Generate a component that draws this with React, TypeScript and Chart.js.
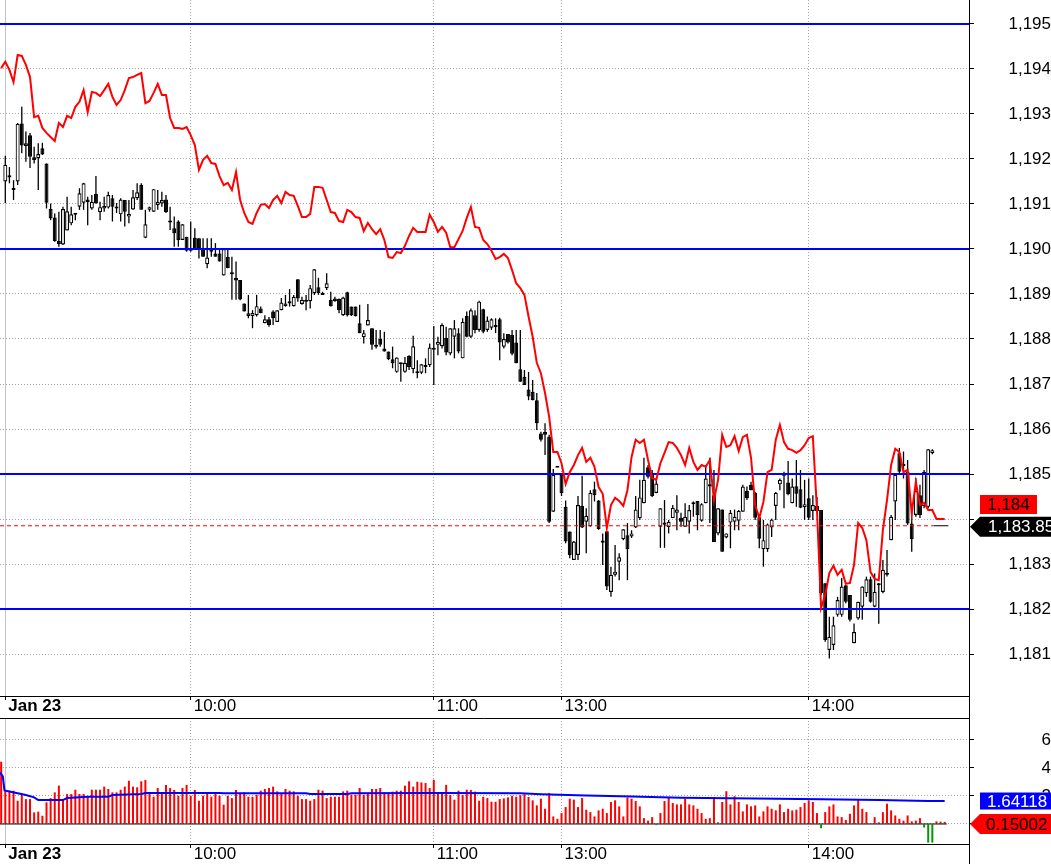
import React, { useEffect, useRef } from "react";
import { Chart, registerables } from "chart.js";

Chart.register(...registerables);

const FONT = '"Liberation Sans", Arial, Helvetica, sans-serif';

// ---------------- data ----------------
const timeTickBars = [0, 45, 104, 135, 195];
const timeTickLabels = ["Jan 23", "10:00", "11:00", "13:00", "14:00"];
const priceTicks = [1181, 1182, 1183, 1184, 1185, 1186, 1187, 1188, 1189, 1190, 1191, 1192, 1193, 1194, 1195];
const horizontalLevels = [1195, 1190, 1185, 1182];

const opens = [
  1191.50,1191.59,1191.31,1191.50,1192.79,1192.29,1192.53,1192.04,1192.02,1192.24,
  1191.90,1190.89,1190.70,1190.18,1190.10,1190.41,1190.57,1190.76,1190.94,1191.03,
  1191.10,1190.90,1191.22,1190.82,1190.90,1190.92,1191.13,1190.90,1190.77,1191.09,
  1190.72,1190.88,1191.13,1191.42,1190.25,1190.87,1190.83,1190.98,1191.01,1191.10,
  1190.59,1190.46,1190.61,1190.20,1190.27,1189.96,1190.25,1190.24,1190.00,1189.66,
  1189.98,1189.90,1189.90,1189.41,1189.82,1189.44,1189.36,1189.31,1188.79,1188.51,
  1188.51,1188.53,1188.68,1188.35,1188.44,1188.61,1188.38,1188.64,1188.73,1188.79,
  1188.73,1189.33,1188.78,1188.83,1188.84,1189.02,1189.15,1189.02,1189.13,1188.87,
  1188.90,1188.89,1188.53,1189.04,1188.72,1188.72,1188.35,1188.04,1188.30,1188.24,
  1187.87,1188.00,1187.79,1187.72,1187.55,1187.27,1187.44,1187.27,1187.62,1187.33,
  1187.27,1187.25,1187.38,1187.42,1187.79,1187.87,1187.84,1188.02,1187.68,1188.05,
  1188.13,1187.57,1188.51,1188.05,1188.53,1188.20,1188.66,1188.20,1188.25,1188.26,
  1188.44,1187.83,1188.11,1188.09,1187.92,1187.33,1187.16,1186.88,1186.83,1186.64,
  1185.90,1185.94,1185.83,1184.16,1185.14,1184.98,1184.27,1183.72,1183.09,1183.20,
  1184.29,1183.94,1183.84,1184.66,1184.41,1183.47,1183.73,1182.38,1182.76,1183.05,
  1183.55,1183.64,1183.61,1183.81,1184.02,1184.35,1185.15,1185.00,1184.58,1183.83,
  1183.92,1183.82,1184.02,1184.14,1184.03,1183.83,1183.94,1184.33,1184.40,1183.96,
  1184.35,1184.77,1184.53,1183.68,1184.21,1183.59,1183.92,1183.94,1183.96,1184.16,
  1184.62,1184.76,1184.58,1184.04,1183.33,1183.33,1183.81,1184.29,1184.77,1185.00,
  1184.81,1184.35,1184.73,1184.66,1184.26,1184.46,1184.18,1184.29,1184.20,1182.57,
  1181.09,1181.20,1181.87,1181.87,1182.53,1182.31,1181.24,1181.79,1182.05,1182.35,
  1182.66,1182.05,1182.53,1182.38,1182.76,1183.53,1184.39,1185.46,1185.18,1185.05,
  1183.90,1184.09,1184.53,1184.29,1184.27,1185.46,
];
const highs = [
  1192.07,1191.82,1191.53,1192.80,1193.16,1192.61,1192.58,1192.27,1192.35,1192.36,
  1191.90,1191.01,1190.79,1190.83,1190.94,1191.16,1190.94,1190.80,1191.35,1191.47,
  1191.16,1191.20,1191.62,1191.05,1191.16,1191.27,1191.20,1191.02,1191.13,1191.09,
  1191.09,1191.31,1191.46,1191.46,1190.87,1190.94,1191.33,1191.31,1191.27,1191.20,
  1190.94,1190.72,1190.64,1190.55,1190.27,1190.61,1190.46,1190.24,1190.24,1190.24,
  1190.24,1190.13,1190.02,1190.00,1190.02,1189.83,1189.72,1189.31,1188.79,1188.98,
  1188.64,1188.98,1188.72,1188.53,1188.49,1188.64,1188.64,1188.91,1188.98,1189.11,
  1188.98,1189.33,1188.94,1188.98,1189.20,1189.55,1189.36,1189.05,1189.46,1189.05,
  1188.94,1188.90,1188.94,1189.05,1188.72,1188.72,1188.76,1188.20,1188.78,1188.24,
  1188.20,1188.20,1188.16,1187.72,1187.83,1187.59,1187.47,1187.60,1187.64,1188.07,
  1187.53,1187.44,1187.57,1187.90,1188.29,1188.05,1188.35,1188.27,1188.24,1188.42,
  1188.24,1188.46,1188.61,1188.68,1188.64,1188.85,1188.67,1188.50,1188.46,1188.46,
  1188.47,1188.13,1188.11,1188.20,1188.20,1188.20,1187.31,1187.27,1187.09,1186.80,
  1185.94,1186.13,1185.87,1185.11,1185.14,1184.98,1184.41,1183.72,1183.51,1184.51,
  1184.96,1184.24,1184.64,1184.83,1184.42,1183.68,1183.73,1182.94,1183.42,1183.24,
  1183.77,1183.91,1183.75,1184.51,1184.87,1185.36,1185.20,1185.09,1184.90,1184.24,
  1184.42,1183.98,1184.31,1184.53,1184.14,1184.35,1184.31,1184.39,1184.40,1184.35,
  1185.20,1185.36,1185.09,1184.24,1184.21,1183.68,1184.20,1184.21,1184.20,1184.76,
  1184.72,1184.83,1184.60,1184.05,1183.98,1183.90,1184.01,1184.60,1184.90,1185.05,
  1185.29,1184.90,1185.31,1185.09,1184.87,1184.90,1184.53,1184.49,1184.20,1182.57,
  1181.83,1181.83,1182.27,1182.69,1182.53,1182.31,1181.68,1182.16,1182.50,1182.72,
  1182.72,1182.79,1182.58,1183.09,1183.31,1184.09,1184.98,1185.58,1185.50,1185.31,
  1184.31,1184.91,1184.76,1185.09,1185.55,1185.55,
];
const lows = [
  1191.02,1191.46,1191.09,1191.42,1192.13,1191.94,1191.80,1191.90,1191.31,1192.09,
  1190.90,1190.64,1190.16,1190.05,1190.09,1190.41,1190.53,1190.64,1190.87,1190.87,
  1190.53,1190.87,1191.01,1190.64,1190.83,1190.90,1190.61,1190.80,1190.61,1190.50,
  1190.57,1190.87,1191.09,1190.87,1190.24,1190.83,1190.83,1190.87,1190.94,1190.80,
  1190.42,1190.05,1190.05,1190.20,1189.94,1189.94,1189.98,1189.79,1189.83,1189.57,
  1189.83,1189.83,1189.72,1189.41,1189.57,1188.87,1188.87,1188.86,1188.61,1188.46,
  1188.24,1188.50,1188.57,1188.35,1188.27,1188.31,1188.38,1188.64,1188.72,1188.72,
  1188.72,1188.83,1188.76,1188.64,1188.68,1188.98,1188.98,1188.98,1189.09,1188.72,
  1188.83,1188.57,1188.51,1188.50,1188.51,1188.50,1188.13,1187.90,1188.30,1187.76,
  1187.79,1187.83,1187.72,1187.53,1187.35,1187.25,1187.05,1187.25,1187.31,1187.24,
  1187.13,1187.22,1187.24,1187.38,1186.98,1187.64,1187.79,1187.64,1187.64,1187.57,
  1187.68,1187.57,1188.04,1188.02,1188.13,1188.16,1188.13,1188.16,1188.20,1188.13,
  1187.53,1187.79,1187.90,1187.64,1187.46,1187.05,1186.98,1186.64,1186.64,1185.98,
  1185.72,1185.42,1183.91,1184.16,1185.14,1184.51,1183.46,1183.13,1183.09,1183.09,
  1183.80,1183.24,1183.83,1184.39,1183.76,1182.98,1182.42,1182.27,1182.72,1182.64,
  1183.53,1182.64,1183.58,1183.80,1183.98,1184.35,1184.90,1184.49,1184.57,1183.36,
  1183.36,1183.68,1184.02,1183.75,1183.83,1183.83,1183.68,1184.05,1183.75,1183.94,
  1184.35,1183.91,1183.49,1183.64,1183.27,1183.57,1183.35,1183.75,1183.75,1184.16,
  1184.42,1184.64,1183.98,1183.35,1182.94,1183.27,1183.60,1183.98,1184.64,1184.24,
  1184.53,1184.35,1184.27,1184.24,1183.98,1183.98,1183.98,1184.16,1182.31,1181.27,
  1180.90,1181.09,1181.83,1181.83,1182.13,1181.72,1181.24,1181.76,1181.76,1182.27,
  1182.14,1182.04,1181.67,1182.35,1182.72,1183.53,1183.98,1185.02,1184.90,1183.87,
  1183.27,1184.05,1184.02,1184.24,1184.24,1185.44,
];
const closes = [
  1191.87,1191.64,1191.31,1192.78,1192.30,1192.35,1192.05,1191.98,1192.11,1192.10,
  1191.03,1190.68,1190.18,1190.11,1190.89,1190.84,1190.77,1190.76,1191.24,1191.46,
  1191.04,1191.05,1191.01,1190.93,1190.96,1191.20,1190.94,1190.90,1191.10,1190.83,
  1190.78,1191.15,1191.26,1190.87,1190.55,1190.93,1191.33,1191.05,1191.09,1190.82,
  1190.59,1190.35,1190.20,1190.55,1189.96,1189.97,1190.01,1190.02,1189.83,1189.81,
  1189.94,1189.83,1189.72,1190.00,1189.58,1189.44,1189.30,1188.88,1188.61,1188.57,
  1188.58,1188.73,1188.58,1188.44,1188.31,1188.46,1188.64,1188.81,1188.79,1188.84,
  1188.94,1188.90,1188.87,1188.85,1189.13,1189.55,1189.02,1188.98,1189.24,1188.73,
  1188.84,1188.64,1188.92,1188.53,1188.53,1188.51,1188.13,1188.13,1188.42,1187.87,
  1187.83,1187.87,1187.72,1187.55,1187.46,1187.59,1187.47,1187.47,1187.38,1187.84,
  1187.24,1187.44,1187.42,1187.81,1187.76,1187.94,1188.31,1187.70,1188.24,1188.24,
  1187.72,1188.38,1188.05,1188.64,1188.20,1188.83,1188.16,1188.41,1188.44,1188.31,
  1187.92,1188.00,1187.92,1187.67,1187.46,1187.05,1186.98,1186.72,1186.64,1186.13,
  1185.76,1185.87,1183.94,1184.98,1185.14,1184.58,1183.50,1183.20,1183.50,1184.31,
  1183.81,1184.07,1184.58,1184.53,1183.78,1183.52,1182.50,1182.76,1182.83,1183.15,
  1183.77,1183.33,1183.68,1184.21,1184.48,1184.87,1184.94,1184.51,1184.79,1184.24,
  1183.87,1183.94,1184.25,1184.21,1183.94,1184.05,1184.20,1184.37,1184.09,1184.33,
  1184.90,1184.72,1183.49,1184.24,1183.27,1183.68,1184.14,1184.05,1184.18,1184.72,
  1184.46,1184.64,1184.03,1183.56,1183.53,1183.88,1183.99,1184.58,1184.87,1184.96,
  1184.55,1184.72,1184.56,1184.25,1184.33,1184.03,1184.31,1184.18,1182.35,1181.31,
  1181.38,1181.64,1182.20,1182.50,1182.16,1181.76,1181.49,1182.16,1182.50,1182.66,
  1182.16,1182.38,1182.53,1182.87,1182.76,1184.05,1184.98,1185.05,1185.18,1183.90,
  1183.55,1184.62,1184.09,1185.05,1185.55,1185.53,
];

// comparison line: first entry belongs to the bar just before the first candle (index -1)
const redLine = [
  1194.02,1194.16,1193.98,1193.71,1194.31,1194.29,1194.09,1193.82,1192.93,1192.96,
  1192.69,1192.58,1192.49,1192.40,1192.80,1192.71,1192.96,1192.91,1193.16,1193.27,
  1193.53,1193.04,1193.49,1193.47,1193.40,1193.53,1193.67,1193.38,1193.20,1193.31,
  1193.53,1193.80,1193.82,1193.87,1193.91,
  1193.24,1193.29,1193.47,1193.67,1193.42,1193.42,1192.91,1192.69,1192.69,1192.67,
  1192.71,1192.53,1192.31,1191.76,1191.98,1192.07,1191.91,1191.89,1191.62,1191.42,
  1191.47,1191.31,1191.71,1191.09,1190.80,1190.60,1190.56,1190.80,1190.98,1191.00,
  1190.91,1191.09,1191.18,1191.02,1191.27,1191.20,1191.18,1190.96,1190.71,1190.71,
  1190.78,1191.38,1191.38,1191.36,1191.09,1190.82,1190.80,1190.62,1190.60,1190.87,
  1190.82,1190.71,1190.69,1190.40,1190.58,1190.44,1190.33,1190.44,1190.20,1189.82,
  1189.80,1189.93,1189.91,1190.07,1190.29,1190.47,
  1190.38,1190.38,1190.38,1190.76,1190.60,1190.38,1190.49,1190.36,1190.04,1190.04,
  1190.22,1190.40,1190.69,1190.93,1190.49,1190.47,1190.20,1190.11,1189.96,1189.78,
  1189.82,1189.89,1189.80,1189.53,1189.24,1189.13,1188.98,1188.50,1188.05,1187.47,
  1187.24,1186.80,1186.27,1185.49,1185.49,1185.24,1184.78,1185.04,1185.20,1185.42,
  1185.58,1185.27,1185.36,1185.16,1184.71,1184.56,1183.80,1184.31,1184.47,1184.40,
  1184.29,1184.64,1185.38,1185.76,1185.69,1185.76,1185.31,1184.91,1184.87,1185.24,
  1185.47,1185.71,1185.69,1185.58,1185.42,1185.20,
  1185.58,1185.27,1185.09,1185.20,1185.16,1185.31,1184.42,1184.87,1185.87,1185.60,
  1185.64,1185.84,1185.51,1185.82,1185.87,1185.36,1184.31,1184.02,1184.38,1185.04,
  1185.09,1185.76,1186.09,1185.71,1185.56,1185.53,1185.47,1185.53,1185.64,1185.80,
  1185.84,1184.20,1182.02,1182.31,1182.80,1182.96,1182.76,1182.87,1182.56,1182.58,
  1182.98,1183.91,1183.80,1183.53,1182.82,1182.67,1182.64,1183.76,1184.42,1185.20,
  1185.56,1185.49,1185.04,1185.09,1184.13,1184.82,1184.31,1184.36,1184.20,1184.20,
  1184.00,1184.00,1184.00,
];
const lastPrice = 1183.85;

// lower panel histogram: first entry belongs to bar index -1
const volume = [
  4.45,
  2.38,2.38,2.38,1.66,2.14,1.78,1.78,0.83,0.88,0.59,
  1.55,1.85,2.26,2.74,1.78,2.14,2.14,2.45,2.14,2.14,
  1.95,2.45,2.45,2.45,2.67,2.50,2.26,2.26,2.45,2.67,
  3.09,2.67,2.62,3.05,3.14,2.26,1.95,2.57,2.21,2.79,
  2.57,2.43,2.02,2.57,2.79,2.02,2.43,1.66,2.02,2.26,
  1.95,2.14,2.02,1.38,2.02,1.85,2.43,2.21,2.26,1.95,
  1.95,2.09,2.38,2.50,2.57,2.67,2.33,2.14,2.50,2.38,
  2.33,2.02,1.78,1.78,1.66,1.78,2.45,2.38,1.85,1.95,
  1.95,1.95,2.33,2.38,2.09,2.09,2.57,2.09,2.14,2.50,
  2.50,2.57,2.26,2.26,2.31,2.38,2.38,2.74,3.05,2.67,
  3.02,2.97,2.93,2.57,3.16,2.26,2.26,2.79,2.07,1.74,
  2.38,2.07,2.45,2.43,2.31,1.66,1.95,1.85,1.59,1.59,
  1.78,1.83,1.90,2.02,1.95,
  2.06,2.13,1.93,1.69,1.33,
  1.81,1.09,2.22,0.54,0.37,0.78,1.21,1.81,1.74,1.21,
  1.86,1.02,0.85,0.54,0.97,1.09,0.78,1.57,1.69,1.26,
  0.54,1.89,1.81,1.64,1.26,0.42,0.24,0.49,-0.08,0.78,
  1.64,1.89,1.50,1.40,1.40,1.81,1.40,1.33,1.09,0.78,
  0.37,0.42,1.93,0.12,1.57,2.34,1.40,1.98,1.57,0.90,
  1.40,1.26,1.33,0.54,0.90,1.26,1.09,0.97,1.40,0.85,
  1.09,0.97,1.02,1.21,1.50,1.69,1.57,0.78,-0.30,0.85,
  1.26,1.40,0.54,0.49,0.29,0.73,1.33,1.77,1.09,0.85,
  0.03,0.49,0.12,0.85,1.45,0.97,0.61,0.37,0.24,0.61,
  0.19,0.24,0.42,-0.25,-1.33,-1.33,0.19,0.17,0.15002,
];
const volumeAvgBars = [-1.3, -0.6, -0.2, 3, 5, 7, 8, 14, 15, 20, 25, 26, 33, 34, 52, 53, 73, 74, 83, 84, 104, 125, 130, 141, 152, 164, 182, 198, 212, 224, 228];
const volumeAvgValues = [3.69, 3.40, 2.40, 2.20, 2.07, 1.90, 1.71, 1.71, 1.85, 1.95, 1.95, 2.07, 2.14, 2.21, 2.21, 2.19, 2.19, 2.14, 2.14, 2.19, 2.21, 2.19, 2.12, 2.03, 1.96, 1.88, 1.83, 1.76, 1.71, 1.645, 1.64118];
const volumeTicks = [0, 2, 4, 6];

// ---------------- layout ----------------
const W = 1051;
const MAIN_H = 718;
const VOL_H = 146;
const AXIS_W = 82;
const X_MIN = -1.286;
const X_MAX = 233.9;
const PRICE_MIN = 1180.067;
const PRICE_MAX = 1195.533;
const VOL_MIN = -1.4286;
const VOL_MAX = 7.571;
const LAST_BAR = opens.length - 1;
const GRID_GREY = "#a4a4a4";

const priceFmt = new Intl.NumberFormat("en-US", { maximumFractionDigits: 2 });

function timeAxis(height: number): any {
  return {
    type: "linear",
    min: X_MIN,
    max: X_MAX,
    offset: false,
    afterBuildTicks: (s: any) => {
      s.ticks = timeTickBars.map((v) => ({ value: v }));
    },
    afterFit: (s: any) => {
      s.height = height;
      s.paddingLeft = 0;
      s.paddingRight = 0;
    },
    ticks: {
      autoSkip: false,
      maxRotation: 0,
      minRotation: 0,
      align: "start",
      labelOffset: 3,
      padding: -2,
      color: "#000",
      font: (c: any) => ({ family: FONT, size: 17, weight: c.index === 0 ? "bold" : "normal", lineHeight: 1 }),
      callback: (_v: any, i: number) => timeTickLabels[i] ?? "",
    },
    grid: {
      offset: false,
      color: (c: any) => (c.index === 0 ? "rgba(0,0,0,0)" : GRID_GREY),
      lineWidth: 1,
      tickLength: 4,
      tickColor: "#000",
      tickWidth: 1,
      tickBorderDash: [],
    },
    border: { display: true, color: "#000", width: 1, dash: [1, 2] },
  };
}

// solid light-grey session-start line at the first time tick, full height of the plot
const sessionLinePlugin: any = {
  id: "sessionLine",
  beforeDatasetsDraw(chart: any) {
    const { ctx, chartArea: a } = chart;
    const x = Math.round(chart.scales.x.getPixelForValue(timeTickBars[0])) + 0.5;
    ctx.save();
    ctx.strokeStyle = "#c4c4c4";
    ctx.lineWidth = 1;
    ctx.beginPath();
    ctx.moveTo(x, a.top);
    ctx.lineTo(x, a.bottom);
    ctx.stroke();
    ctx.restore();
  },
};

function framePlugin(drawTop: boolean): any {
  return {
    id: "frame" + (drawTop ? "T" : "B"),
    afterDraw(chart: any) {
      const { ctx, chartArea: a, height } = chart;
      ctx.save();
      ctx.strokeStyle = "#000";
      ctx.lineWidth = 1;
      const xr = Math.round(a.right) + 0.5;
      ctx.beginPath();
      ctx.moveTo(xr, 0);
      ctx.lineTo(xr, height);
      if (drawTop) {
        const yt = Math.round(a.top) + 0.5;
        ctx.moveTo(0, yt);
        ctx.lineTo(xr, yt);
      }
      ctx.stroke();
      ctx.restore();
    },
  };
}

function arrowBox(ctx: any, tipX: number, boxX: number, cy: number, h: number, color: string) {
  ctx.beginPath();
  ctx.moveTo(tipX, cy);
  ctx.lineTo(boxX, cy - h / 2);
  ctx.lineTo(W, cy - h / 2);
  ctx.lineTo(W, cy + h / 2);
  ctx.lineTo(boxX, cy + h / 2);
  ctx.closePath();
  ctx.fillStyle = color;
  ctx.fill();
}

const mainLabels: any = {
  id: "mainLabels",
  afterDraw(chart: any) {
    const { ctx, chartArea } = chart;
    const y = chart.scales.y;
    const r = chartArea.right;
    const redLast = redLine[redLine.length - 1];
    const ry = y.getPixelForValue(redLast);
    const py = y.getPixelForValue(lastPrice);
    ctx.save();
    ctx.font = `17px ${FONT}`;
    ctx.textBaseline = "middle";
    // white strip behind the value boxes (hides the covered tick label)
    ctx.fillStyle = "#fff";
    ctx.fillRect(r + 6, ry - 24, W - r - 6, py - ry + 35);
    // red line value box
    ctx.fillStyle = "#ff0000";
    ctx.fillRect(r + 11, ry - 24, 57, 19);
    ctx.fillStyle = "#000";
    ctx.textAlign = "center";
    ctx.fillText(priceFmt.format(redLast), r + 39.5, ry - 13.5);
    // last price arrow box
    arrowBox(ctx, r + 1, r + 11, py + 1, 20, "#000");
    ctx.fillStyle = "#fff";
    ctx.textAlign = "left";
    ctx.fillText(priceFmt.format(lastPrice), r + 19, py + 2);
    ctx.restore();
  },
};

const volLabels: any = {
  id: "volLabels",
  afterDraw(chart: any) {
    const { ctx, chartArea } = chart;
    const y = chart.scales.y;
    const r = chartArea.right;
    const avgLast = volumeAvgValues[volumeAvgValues.length - 1];
    const volLast = volume[volume.length - 1];
    const by = y.getPixelForValue(avgLast);
    const vy = y.getPixelForValue(volLast) + 2;
    ctx.save();
    ctx.font = `17px ${FONT}`;
    ctx.textBaseline = "middle";
    ctx.textAlign = "left";
    ctx.fillStyle = "#0000ff";
    ctx.fillRect(r + 11, by - 8.5, W - r - 11, 17);
    ctx.fillStyle = "#fff";
    ctx.fillText(avgLast.toFixed(5), r + 18, by + 1);
    arrowBox(ctx, r + 1, r + 11, vy, 20, "#ff0000");
    ctx.fillStyle = "#000";
    ctx.fillText(volLast.toFixed(5), r + 17, vy + 1);
    ctx.restore();
  },
};

function mainConfig(): any {
  const idx = opens.map((_, i) => i);
  const wicks = idx.map((i) => ({ x: i, y: [lows[i], highs[i]] }));
  const bodies = idx.map((i) => ({ x: i, y: [Math.min(opens[i], closes[i]), Math.max(opens[i], closes[i])] }));
  const levelSets = horizontalLevels.map((lv) => ({
    type: "line",
    data: [{ x: X_MIN, y: lv }, { x: X_MAX, y: lv }],
    borderColor: "#0000ff",
    borderWidth: 2,
    pointRadius: 0,
    order: 2,
  }));
  return {
    type: "bar",
    data: {
      datasets: [
        {
          type: "line",
          data: redLine.map((v, k) => ({ x: k - 1, y: v })),
          borderColor: "#ff0000",
          borderWidth: 2,
          pointRadius: 0,
          tension: 0,
          order: 0,
        },
        {
          type: "line",
          data: [{ x: X_MIN, y: lastPrice }, { x: LAST_BAR + 0.3, y: lastPrice }],
          borderColor: "#ff0000",
          borderWidth: 1,
          borderDash: [4, 3],
          pointRadius: 0,
          order: 1,
        },
        {
          type: "line",
          data: [{ x: LAST_BAR + 0.3, y: lastPrice }, { x: LAST_BAR + 3.9, y: lastPrice }],
          borderColor: "#000",
          borderWidth: 1,
          pointRadius: 0,
          order: 1,
        },
        ...levelSets,
        {
          type: "bar",
          data: bodies,
          backgroundColor: (c: any) => (closes[c.dataIndex] >= opens[c.dataIndex] ? "#ffffff" : "#000000"),
          borderColor: "#000",
          borderWidth: 1.2,
          borderSkipped: false,
          barThickness: 4,
          minBarLength: 2,
          grouped: false,
          inflateAmount: 0,
          order: 3,
        },
        {
          type: "bar",
          data: wicks,
          backgroundColor: "#000",
          borderWidth: 0,
          barThickness: 1.3,
          grouped: false,
          inflateAmount: 0,
          order: 4,
        },
      ],
    },
    options: {
      animation: false,
      responsive: false,
      devicePixelRatio: 1,
      events: [],
      layout: { padding: 0 },
      plugins: { legend: { display: false }, tooltip: { enabled: false } },
      scales: {
        x: timeAxis(MAIN_H - 696),
        y: {
          type: "linear",
          position: "right",
          min: PRICE_MIN,
          max: PRICE_MAX,
          afterBuildTicks: (s: any) => {
            s.ticks = priceTicks.map((v) => ({ value: v }));
          },
          afterFit: (s: any) => {
            s.width = AXIS_W;
            s.paddingTop = 0;
            s.paddingBottom = 0;
          },
          ticks: {
            color: "#000",
            font: { family: FONT, size: 17 },
            padding: 33,
            crossAlign: "far",
            callback: (v: any) => priceFmt.format(v),
          },
          grid: { color: GRID_GREY, tickLength: 5, tickColor: "#000", tickBorderDash: [], lineWidth: 1 },
          border: { display: true, color: "#000", width: 1, dash: [1, 2] },
        },
      },
    },
    plugins: [sessionLinePlugin, framePlugin(false), mainLabels],
  };
}

function volConfig(): any {
  return {
    type: "bar",
    data: {
      datasets: [
        {
          type: "line",
          data: volumeAvgBars.map((x, k) => ({ x, y: volumeAvgValues[k] })),
          borderColor: "#0000ff",
          borderWidth: 2,
          pointRadius: 0,
          order: 0,
        },
        {
          type: "line",
          data: [{ x: X_MIN, y: 0 }, { x: volume.length - 1.5, y: 0 }],
          borderColor: "#000",
          borderWidth: 1,
          pointRadius: 0,
          order: 1,
        },
        {
          type: "bar",
          data: volume.map((v, k) => ({ x: k - 1, y: v })),
          backgroundColor: (c: any) => (volume[c.dataIndex] < 0 ? "#009a00" : "#ff0000"),
          borderWidth: 0,
          barThickness: 2,
          grouped: false,
          inflateAmount: 0,
          order: 2,
        },
      ],
    },
    options: {
      animation: false,
      responsive: false,
      devicePixelRatio: 1,
      events: [],
      layout: { padding: 0 },
      plugins: { legend: { display: false }, tooltip: { enabled: false } },
      scales: {
        x: timeAxis(VOL_H - 126),
        y: {
          type: "linear",
          position: "right",
          min: VOL_MIN,
          max: VOL_MAX,
          afterBuildTicks: (s: any) => {
            s.ticks = volumeTicks.map((v) => ({ value: v }));
          },
          afterFit: (s: any) => {
            s.width = AXIS_W;
            s.paddingTop = 0;
            s.paddingBottom = 0;
          },
          ticks: {
            color: "#000",
            font: { family: FONT, size: 17 },
            padding: 65,
            crossAlign: "far",
            callback: (v: any) => String(v),
          },
          grid: { color: GRID_GREY, tickLength: 5, tickColor: "#000", tickBorderDash: [], lineWidth: 1 },
          border: { display: true, color: "#000", width: 1, dash: [1, 2] },
        },
      },
    },
    plugins: [sessionLinePlugin, framePlugin(true), volLabels],
  };
}

export default function App() {
  const mainRef = useRef<HTMLCanvasElement>(null);
  const volRef = useRef<HTMLCanvasElement>(null);

  useEffect(() => {
    document.body.style.margin = "0";
    Chart.defaults.font.family = FONT;
    const c1 = new Chart(mainRef.current as HTMLCanvasElement, mainConfig());
    const c2 = new Chart(volRef.current as HTMLCanvasElement, volConfig());
    return () => {
      c1.destroy();
      c2.destroy();
    };
  }, []);

  return (
    <div style={{ position: "absolute", left: 0, top: 0, width: W, height: MAIN_H + VOL_H, background: "#fff" }}>
      <canvas ref={mainRef} width={W} height={MAIN_H} style={{ display: "block", width: W, height: MAIN_H }} />
      <canvas ref={volRef} width={W} height={VOL_H} style={{ display: "block", width: W, height: VOL_H }} />
    </div>
  );
}
